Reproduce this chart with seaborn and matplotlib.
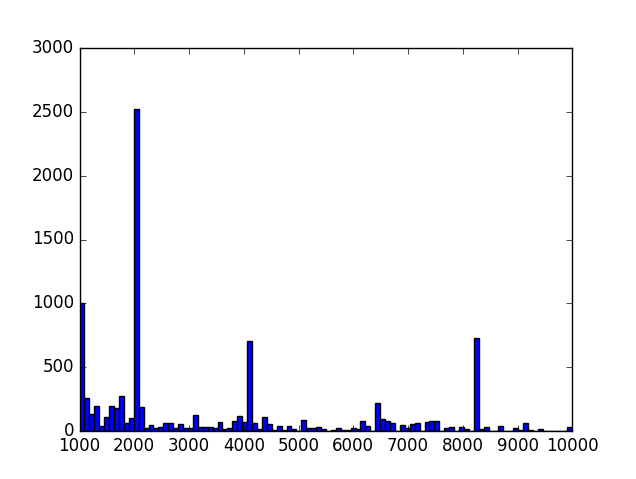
import matplotlib
matplotlib.use('Agg')
import matplotlib.pyplot as plt
import numpy as np
import seaborn as sns

# histogram range and bin count
bin_lo = 1000
bin_hi = 10000
n_bins = 100

# counts per bin (left to right)
counts = [
    1000, 260, 130, 195, 40, 112, 195, 183, 272, 65,
    100, 2525, 185, 26, 45, 26, 32, 65, 65, 21,
    58, 21, 24, 128, 34, 34, 34, 21, 68, 13,
    21, 78, 118, 75, 703, 65, 18, 112, 55, 6,
    42, 8, 40, 17, 4, 88, 27, 27, 34, 14,
    4, 9, 22, 9, 9, 22, 17, 81, 40, 3,
    218, 94, 81, 66, 4, 50, 25, 52, 66, 4,
    73, 78, 78, 1, 22, 35, 2, 29, 16, 3,
    728, 15, 30, 3, 3, 42, 3, 3, 22, 8,
    62, 12, 3, 15, 3, 2, 4, 2, 4, 36,
]

plt.style.use('classic')
plt.rcParams['font.family'] = ['DejaVu Sans']

width = (bin_hi - bin_lo) / n_bins
centers = bin_lo + width * (np.arange(n_bins) + 0.5)

fig, ax = plt.subplots(figsize=(6.36, 4.79), dpi=100)
fig.patch.set_facecolor('white')
sns.histplot(x=centers, weights=counts, bins=n_bins, binrange=(bin_lo, bin_hi),
             color='blue', edgecolor='black', linewidth=1, alpha=1, ax=ax)
ax.set_xlim(bin_lo, bin_hi)
ax.set_ylim(0, 3000)
ax.set_xlabel('')
ax.set_ylabel('')
fig.savefig('out.png', dpi=100, facecolor='white')
plt.close(fig)
